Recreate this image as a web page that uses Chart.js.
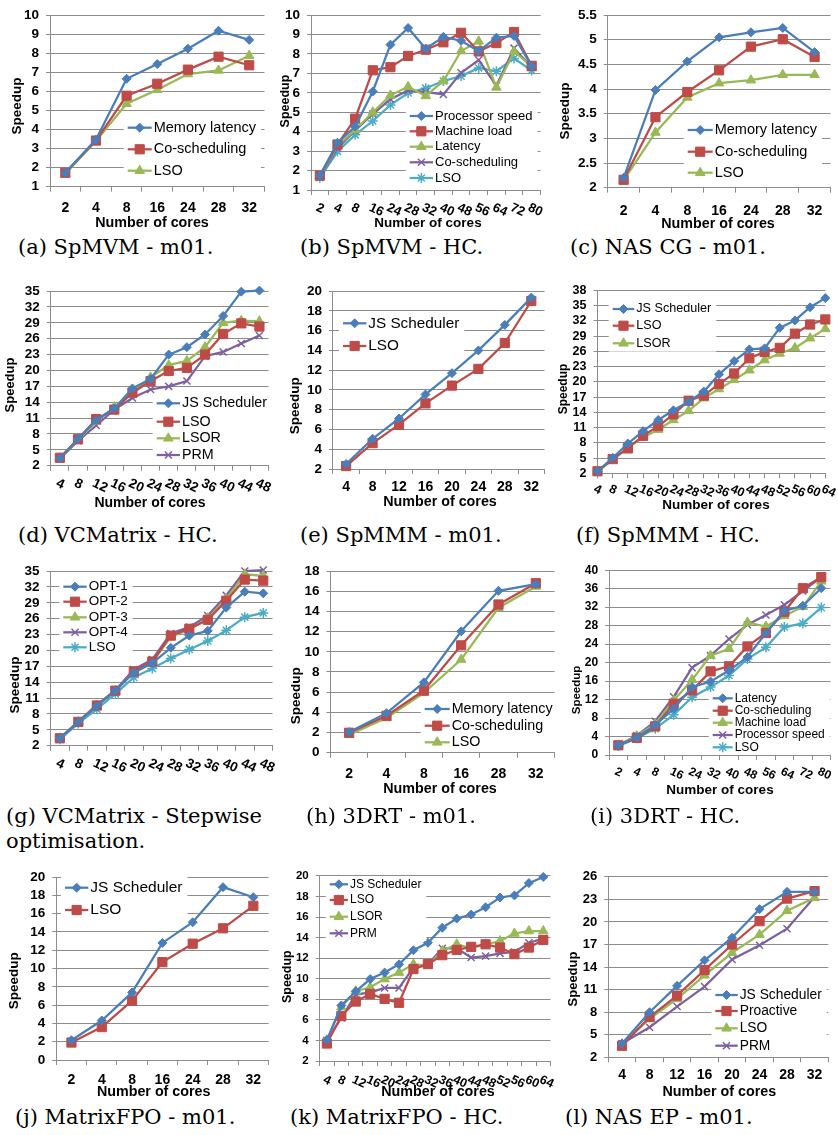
<!DOCTYPE html>
<html lang="en">
<head>
<meta charset="utf-8">
<title>Speedup results</title>
<script src="https://cdn.jsdelivr.net/npm/chart.js"></script>
<style>
  body { margin: 0; background: #fff; }
  #page { position: relative; width: 838px; height: 1135px; overflow: hidden; background: #fff; }
  #page canvas { position: absolute; }
  .cap { position: absolute; font-family: "DejaVu Serif", serif; font-size: 21px; line-height: 21px; color: #000; white-space: nowrap; }
</style>
</head>
<body>
<div id="page"></div>
<script>
// ---- data ----
// (a) SpMVM - m01
const coresA = ['2', '4', '8', '16', '24', '28', '32'];
const aMemLatency = [1.73, 3.47, 6.66, 7.43, 8.24, 9.18, 8.70];
const aCoSched = [1.73, 3.42, 5.77, 6.40, 7.14, 7.82, 7.37];
const aLSO = [1.68, 3.39, 5.35, 6.08, 6.91, 7.10, 7.87];

// (b) SpMVM - HC
const coresB = ['2', '4', '8', '16', '24', '28', '32', '40', '48', '56', '64', '72', '80'];
const bProcSpeed = [1.74, 3.43, 4.27, 6.07, 8.48, 9.34, 8.27, 8.88, 8.68, 8.15, 8.84, 8.93, 7.36];
const bMachLoad = [1.74, 3.34, 4.67, 7.16, 7.32, 7.90, 8.22, 8.60, 9.09, 8.13, 8.56, 9.13, 7.39];
const bLatency = [1.69, 3.28, 4.09, 5.00, 5.87, 6.31, 5.84, 6.61, 8.15, 8.65, 6.28, 8.13, 7.36];
const bCoSched = [1.69, 3.15, 4.06, 4.91, 5.67, 6.12, 6.04, 5.92, 7.03, 7.69, 6.37, 8.30, 7.31];
const bLSO = [1.63, 2.98, 3.84, 4.55, 5.38, 5.99, 6.24, 6.61, 6.86, 7.28, 7.11, 7.77, 7.15];

// (c) NAS CG - m01
const coresC = ['2', '4', '8', '16', '24', '28', '32'];
const cMemLatency = [2.20, 3.98, 4.56, 5.05, 5.15, 5.24, 4.75];
const cCoSched = [2.16, 3.43, 3.94, 4.38, 4.86, 5.01, 4.65];
const cLSO = [2.15, 3.12, 3.83, 4.12, 4.18, 4.29, 4.29];

// (d) VCMatrix - HC
const coresD = ['4', '8', '12', '16', '20', '24', '28', '32', '36', '40', '44', '48'];
const dJS = [3.4, 7.1, 10.6, 12.8, 16.6, 18.4, 23.0, 24.4, 26.8, 30.3, 34.9, 35.1];
const dLSO = [3.5, 7.0, 10.8, 12.6, 15.8, 18.0, 19.9, 20.5, 23.0, 26.9, 28.9, 28.3];
const dLSOR = [3.4, 6.9, 10.3, 13.1, 15.8, 18.7, 21.0, 21.8, 24.4, 29.0, 29.4, 29.3];
const dPRM = [3.3, 6.7, 9.6, 12.6, 14.8, 16.4, 17.0, 18.0, 22.7, 23.5, 25.1, 26.6];

// (e) SpMMM - m01
const coresE = ['4', '8', '12', '16', '20', '24', '28', '32'];
const eJS = [2.5, 5.06, 7.11, 9.54, 11.7, 14.0, 16.58, 19.34];
const eLSO = [2.3, 4.62, 6.48, 8.64, 10.44, 12.13, 14.75, 19.0];

// (f) SpMMM - HC
const coresF = ['4', '8', '12', '16', '20', '24', '28', '32', '36', '40', '44', '48', '52', '56', '60', '64'];
const fJS = [2.4, 5.06, 7.86, 10.3, 12.5, 14.4, 16.1, 18.1, 21.5, 24.1, 26.4, 26.6, 30.65, 32.1, 34.7, 36.5];
const fLSO = [2.4, 4.8, 6.9, 9.4, 11.3, 13.6, 16.3, 17.3, 19.6, 21.66, 24.65, 25.9, 26.7, 29.5, 31.3, 32.3];
const fLSOR = [2.4, 4.6, 7.1, 9.03, 10.6, 12.5, 14.3, 16.8, 18.6, 20.4, 22.3, 24.3, 25.6, 26.7, 28.6, 30.45];

// (g) VCMatrix - Stepwise optimisation
const coresG = ['4', '8', '12', '16', '20', '24', '28', '32', '36', '40', '44', '48'];
const gOpt1 = [3.4, 6.5, 9.5, 12.4, 15.8, 17.6, 20.5, 22.8, 23.7, 28.1, 31.1, 30.8];
const gOpt2 = [3.4, 6.5, 9.6, 12.4, 16.0, 17.9, 22.8, 24.1, 25.8, 29.4, 33.4, 33.2];
const gOpt3 = [3.4, 6.5, 9.6, 12.4, 16.0, 17.7, 22.6, 23.9, 26.1, 29.7, 34.4, 34.1];
const gOpt4 = [3.4, 6.6, 9.7, 12.5, 16.4, 18.3, 23.2, 24.4, 26.6, 30.4, 35.0, 35.2];
const gLSO = [3.2, 6.2, 8.9, 11.8, 14.9, 16.6, 18.5, 20.2, 21.8, 23.8, 26.3, 27.1];

// (h) 3DRT - m01
const coresH = ['2', '4', '8', '16', '28', '32'];
const hMemLatency = [2.04, 3.92, 6.97, 12.03, 16.05, 16.7];
const hCoSched = [1.98, 3.66, 6.16, 10.64, 14.69, 16.8];
const hLSO = [1.78, 3.44, 5.93, 9.24, 14.37, 16.48];

// (i) 3DRT - HC
const coresI = ['2', '4', '8', '16', '24', '32', '40', '48', '56', '64', '72', '80'];
const iLatency = [2.1, 3.8, 6.45, 10.0, 14.7, 15.9, 18.3, 21.2, 26.4, 31.2, 32.3, 36.1];
const iCoSched = [2.1, 3.7, 6.2, 11.1, 14.0, 18.1, 19.2, 23.5, 26.4, 31.0, 36.1, 38.5];
const iMachLoad = [2.1, 4.1, 6.7, 11.8, 16.3, 21.5, 23.0, 28.7, 27.8, 30.1, 32.1, 37.6];
const iProcSpeed = [2.1, 4.2, 7.3, 12.6, 18.9, 21.5, 25.1, 28.2, 30.3, 32.5, 35.5, 38.5];
const iLSO = [1.94, 3.6, 5.7, 8.7, 12.5, 14.7, 17.2, 20.8, 23.3, 27.7, 28.5, 31.9];

// (j) MatrixFPO - m01
const coresJ = ['2', '4', '8', '16', '24', '28', '32'];
const jJS = [2.16, 4.32, 7.39, 12.8, 15.06, 18.9, 17.8];
const jLSO = [1.91, 3.6, 6.49, 10.7, 12.72, 14.4, 16.86];

// (k) MatrixFPO - HC
const coresK = ['4', '8', '12', '16', '20', '24', '28', '32', '36', '40', '44', '48', '52', '56', '60', '64'];
const kJS = [4.03, 7.4, 8.78, 9.97, 10.6, 11.4, 12.77, 13.5, 14.96, 15.85, 16.24, 16.95, 17.9, 18.1, 19.3, 19.9];
const kLSO = [3.7, 6.37, 7.78, 8.52, 8.04, 7.66, 10.94, 11.42, 12.29, 12.8, 13.1, 13.35, 13.03, 12.39, 13.03, 13.77];
const kLSOR = [4.03, 7.24, 8.78, 9.17, 9.97, 10.6, 11.4, 11.3, 12.7, 13.35, 12.96, 13.35, 13.67, 14.4, 14.64, 14.64];
const kPRM = [4.0, 6.18, 8.46, 8.68, 9.1, 9.1, 11.1, 11.4, 12.96, 12.96, 12.06, 12.2, 12.47, 12.6, 13.5, 13.9];

// (l) NAS EP - m01
const coresL = ['4', '8', '12', '16', '20', '24', '28', '32'];
const lJS = [3.84, 8.0, 11.5, 14.9, 17.9, 21.7, 24.0, 24.0];
const lProactive = [3.53, 7.35, 10.2, 13.6, 17.0, 20.1, 23.1, 24.1];
const lLSO = [3.75, 7.13, 9.77, 12.9, 15.9, 18.3, 21.5, 23.2];
const lPRM = [3.84, 6.0, 8.75, 11.4, 15.0, 16.9, 19.1, 23.3];

// ---- look ----
const FONT = '"Liberation Sans", Arial, sans-serif';
const GRID = '#8c8c8c';
const STYLES = [
  { color: '#4A7EBB', point: 'rectRot', r: 4.5, bw: 1 },
  { color: '#BE4B48', point: 'rect', r: 6.5, bw: 1 },
  { color: '#98B954', point: 'triangle', r: 5.5, bw: 1 },
  { color: '#7D60A0', point: 'crossRot', r: 5, bw: 1.5 },
  { color: '#4BACC6', point: 'star', r: 5, bw: 1.5 }
];

const page = document.getElementById('page');

function caption(text, x, y) {
  const d = document.createElement('div');
  d.className = 'cap';
  d.textContent = text;
  d.style.left = x + 'px';
  d.style.top = (y - 10.5) + 'px';
  page.appendChild(d);
}

function panel(p) {
  const b = p.box;
  const cv = document.createElement('canvas');
  cv.width = b.w; cv.height = b.h;
  cv.style.left = b.x + 'px'; cv.style.top = b.y + 'px';
  cv.style.width = b.w + 'px'; cv.style.height = b.h + 'px';
  page.appendChild(cv);

  const datasets = p.series.map((s, i) => {
    const st = STYLES[i];
    return {
      label: s[0], data: s[1],
      borderColor: st.color, backgroundColor: st.color, borderWidth: 2.25,
      pointStyle: st.point, pointRadius: st.r, pointBorderWidth: st.bw,
      pointBackgroundColor: st.color, pointBorderColor: st.color,
      tension: 0, clip: false
    };
  });
  const off = p.offset !== false;

  // axis titles, slanted tick labels and the in-plot legend
  const overlay = {
    id: 'overlay',
    afterDatasetsDraw(chart) {
      const L = p.legend;
      const ctx = chart.ctx;
      ctx.save();
      ctx.font = L.size + 'px ' + FONT;
      let tw = 0;
      chart.data.datasets.forEach(d => { tw = Math.max(tw, ctx.measureText(d.label).width); });
      const gap = L.rows.length > 1 ? L.rows[1] - L.rows[0] : 18;
      ctx.fillStyle = '#fff';
      ctx.fillRect(L.x1 - 4 - b.x, L.rows[0] - gap / 2 - b.y,
        L.x2 + 2 + tw + 5 - (L.x1 - 4), L.rows[L.rows.length - 1] - L.rows[0] + gap);
      chart.data.datasets.forEach((d, i) => {
        const y = L.rows[i] - b.y;
        ctx.strokeStyle = d.borderColor; ctx.lineWidth = d.borderWidth;
        ctx.beginPath(); ctx.moveTo(L.x1 - b.x, y); ctx.lineTo(L.x2 - b.x, y); ctx.stroke();
        ctx.fillStyle = d.pointBackgroundColor; ctx.strokeStyle = d.pointBorderColor;
        ctx.lineWidth = d.pointBorderWidth;
        Chart.helpers.drawPoint(ctx, { pointStyle: d.pointStyle, radius: d.pointRadius, rotation: 0,
          borderWidth: d.pointBorderWidth }, (L.x1 + L.x2) / 2 - b.x, y);
        ctx.fillStyle = '#000'; ctx.textAlign = 'left'; ctx.textBaseline = 'middle';
        ctx.fillText(d.label, L.x2 + 2 - b.x, y);
      });
      ctx.restore();
    },
    afterDraw(chart) {
      const ctx = chart.ctx;
      ctx.save();
      ctx.fillStyle = '#000';
      ctx.textBaseline = 'middle';
      // y title
      ctx.save();
      ctx.font = 'bold ' + p.yt.size + 'px ' + FONT;
      ctx.textAlign = 'center';
      ctx.translate(p.yt.x - b.x, p.yt.y - b.y);
      ctx.rotate(-Math.PI / 2);
      ctx.fillText('Speedup', 0, 0);
      ctx.restore();
      // x title
      if (p.xt) {
        ctx.font = 'bold ' + p.xt.size + 'px ' + FONT;
        ctx.textAlign = 'center';
        ctx.fillText('Number of cores', p.xt.x - b.x, p.xt.y - b.y);
      }
      // slanted category labels
      if (p.rot) {
        const xs = chart.scales.x;
        ctx.font = 'bold ' + p.rot.size + 'px ' + FONT;
        ctx.textAlign = 'left';
        p.labels.forEach((lab, i) => {
          ctx.save();
          ctx.translate(xs.getPixelForTick(i) - 3, p.plot.B - b.y + p.rot.dy);
          ctx.rotate(p.rot.a * Math.PI / 180);
          ctx.fillText(lab, 0, 0);
          ctx.restore();
        });
      }
      ctx.restore();
    }
  };

  new Chart(cv, {
    type: 'line',
    data: { labels: p.labels, datasets },
    plugins: [overlay],
    options: {
      responsive: false,
      animation: false,
      events: [],
      layout: { padding: { left: 0, bottom: 0, top: p.plot.T - b.y, right: b.x + b.w - p.plot.R } },
      plugins: { legend: { display: false }, tooltip: { enabled: false } },
      scales: {
        x: {
          type: 'category',
          offset: off,
          grid: { display: true, drawOnChartArea: false, drawTicks: true, tickLength: 5, color: GRID, offset: off },
          border: { display: true, color: GRID, width: 1 },
          ticks: p.rot ? { display: false } : {
            autoSkip: false, maxRotation: 0, minRotation: 0, color: '#000', padding: p.xtick.pad,
            font: { family: FONT, size: p.xtick.size, weight: 'bold' }
          },
          title: { display: false },
          afterFit: s => { s.height = b.y + b.h - p.plot.B; }
        },
        y: {
          min: p.y[0], max: p.y[1],
          grid: { color: GRID, lineWidth: 1, drawTicks: true, tickLength: 4 },
          border: { display: true, color: GRID, width: 1 },
          ticks: {
            stepSize: p.y[2], autoSkip: false, color: '#000', padding: 7,
            font: { family: FONT, size: p.y[3], weight: 'bold' },
            callback: v => String(Math.round(v * 100) / 100)
          },
          title: { display: false },
          afterFit: s => { s.width = p.plot.L - b.x; }
        }
      }
    }
  });
}

// ---- panels ----
panel({ box: { x: 0, y: 0, w: 272, h: 234 }, plot: { L: 50, T: 10.7, R: 267, B: 186.7 },
  labels: coresA, series: [['Memory latency', aMemLatency], ['Co-scheduling', aCoSched], ['LSO', aLSO]],
  y: [1, 10, 1, 13.5], yt: { x: 17.5, y: 106, size: 13.5 }, xt: { x: 152, y: 223, size: 14.3 },
  xtick: { size: 14, pad: 8 }, legend: { x1: 127.7, x2: 151.7, rows: [127.7, 149.3, 170.7], size: 14.5 } });

panel({ box: { x: 278, y: 0, w: 270, h: 234 }, plot: { L: 311, T: 8.3, R: 544, B: 190 },
  labels: coresB, series: [['Processor speed', bProcSpeed], ['Machine load', bMachLoad], ['Latency', bLatency],
    ['Co-scheduling', bCoSched], ['LSO', bLSO]],
  y: [1, 10, 1, 13.5], yt: { x: 285.7, y: 101, size: 12.5 }, xt: { x: 428, y: 223, size: 13.5 },
  rot: { a: 25, size: 13, dy: 17 }, legend: { x1: 409.7, x2: 433, rows: [116, 131.3, 146.7, 162.3, 178], size: 13 } });

panel({ box: { x: 556, y: 0, w: 282, h: 234 }, plot: { L: 607.7, T: 10, R: 834, B: 187.7 },
  labels: coresC, series: [['Memory latency', cMemLatency], ['Co-scheduling', cCoSched], ['LSO', cLSO]],
  y: [2, 5.5, 0.5, 13.5], yt: { x: 565, y: 111, size: 13.5 }, xt: { x: 718, y: 224, size: 14.3 },
  xtick: { size: 14, pad: 9.6 }, legend: { x1: 687.7, x2: 712.7, rows: [130, 151.7, 172.7], size: 14.5 } });

panel({ box: { x: 0, y: 276, w: 276, h: 236 }, plot: { L: 50.8, T: 288.3, R: 272.8, B: 465.7 },
  labels: coresD, series: [['JS Scheduler', dJS], ['LSO', dLSO], ['LSOR', dLSOR], ['PRM', dPRM]],
  y: [2, 35, 3, 13.5], yt: { x: 10, y: 385, size: 13 }, xt: { x: 150, y: 503, size: 14 },
  rot: { a: 25, size: 13.5, dy: 17 }, legend: { x1: 156.7, x2: 180, rows: [403.3, 421.7, 438.3, 455], size: 14.3 } });

panel({ box: { x: 278, y: 276, w: 274, h: 236 }, plot: { L: 332.9, T: 288.3, R: 548, B: 469 },
  labels: coresE, series: [['JS Scheduler', eJS], ['LSO', eLSO]],
  y: [2, 20, 2, 13.5], yt: { x: 295.3, y: 405.8, size: 13.5 }, xt: { x: 440, y: 502, size: 14.3 },
  xtick: { size: 14, pad: 4.3 }, legend: { x1: 343, x2: 366.3, rows: [323.3, 346], size: 15.3 } });

panel({ box: { x: 556, y: 276, w: 282, h: 236 }, plot: { L: 597.5, T: 289, R: 825.3, B: 473.3 }, offset: false,
  labels: coresF, series: [['JS Scheduler', fJS], ['LSO', fLSO], ['LSOR', fLSOR]],
  y: [2, 38, 3, 12.5], yt: { x: 563.3, y: 389, size: 12 }, xt: { x: 716, y: 505, size: 13.5 },
  rot: { a: 25, size: 12.5, dy: 15 }, legend: { x1: 612.7, x2: 634.3, rows: [309, 325.7, 343.3], size: 12.6 } });

panel({ box: { x: 0, y: 556, w: 280, h: 232 }, plot: { L: 50.6, T: 569.3, R: 277.1, B: 745.7 },
  labels: coresG, series: [['OPT-1', gOpt1], ['OPT-2', gOpt2], ['OPT-3', gOpt3], ['OPT-4', gOpt4], ['LSO', gLSO]],
  y: [2, 35, 3, 13.5], yt: { x: 15.3, y: 685, size: 13.5 },
  rot: { a: 25, size: 13.5, dy: 17 }, legend: { x1: 63.3, x2: 86.7, rows: [586.7, 601.7, 617.3, 632.3, 647.3], size: 13.5 } });

panel({ box: { x: 278, y: 556, w: 284, h: 244 }, plot: { L: 330.5, T: 567.7, R: 560.5, B: 752.7 },
  labels: coresH, series: [['Memory latency', hMemLatency], ['Co-scheduling', hCoSched], ['LSO', hLSO]],
  y: [0, 18, 2, 13.5], yt: { x: 296.7, y: 695.8, size: 13.5 }, xt: { x: 440, y: 789, size: 14.3 },
  xtick: { size: 14, pad: 8.2 }, legend: { x1: 424.7, x2: 449.7, rows: [709, 725.7, 742.3], size: 14.3 } });

panel({ box: { x: 556, y: 556, w: 282, h: 244 }, plot: { L: 609.1, T: 569, R: 831, B: 755 },
  labels: coresI, series: [['Latency', iLatency], ['Co-scheduling', iCoSched], ['Machine load', iMachLoad],
    ['Processor speed', iProcSpeed], ['LSO', iLSO]],
  y: [0, 40, 4, 12], yt: { x: 577.3, y: 690, size: 11.5 }, xt: { x: 720, y: 790, size: 13.5 },
  rot: { a: 25, size: 12, dy: 16 }, legend: { x1: 712.7, x2: 732.7, rows: [698.3, 710.7, 722.7, 735, 747.3], size: 12 } });

panel({ box: { x: 0, y: 862, w: 276, h: 240 }, plot: { L: 56.3, T: 875, R: 271, B: 1060 },
  labels: coresJ, series: [['JS Scheduler', jJS], ['LSO', jLSO]],
  y: [0, 20, 2, 13.5], yt: { x: 13.8, y: 980.8, size: 13.5 }, xt: { x: 153.7, y: 1092.3, size: 14.3 },
  xtick: { size: 14, pad: 6.6 }, legend: { x1: 65, x2: 88.3, rows: [887.7, 910], size: 15.5 } });

panel({ box: { x: 278, y: 862, w: 280, h: 240 }, plot: { L: 319.7, T: 874.3, R: 554.4, B: 1061 },
  labels: coresK, series: [['JS Scheduler', kJS], ['LSO', kLSO], ['LSOR', kLSOR], ['PRM', kPRM]],
  y: [2, 20, 2, 11.5], yt: { x: 288, y: 976.7, size: 12.5 }, xt: { x: 438, y: 1091.7, size: 14.3 },
  rot: { a: 25, size: 12.5, dy: 18 }, legend: { x1: 329.7, x2: 348, rows: [884.3, 900, 916.7, 933.3], size: 12 } });

panel({ box: { x: 556, y: 862, w: 282, h: 240 }, plot: { L: 608.3, T: 875, R: 828.3, B: 1057.3 },
  labels: coresL, series: [['JS Scheduler', lJS], ['Proactive', lProactive], ['LSO', lLSO], ['PRM', lPRM]],
  y: [2, 26, 3, 13], yt: { x: 573, y: 979, size: 13 }, xt: { x: 719.3, y: 1092, size: 14.3 },
  xtick: { size: 14, pad: 4.3 }, legend: { x1: 715.3, x2: 737.7, rows: [995, 1011, 1028.3, 1045.7], size: 13.8 } });

// ---- captions ----
caption('(a) SpMVM - m01.', 18, 247);
caption('(b) SpMVM - HC.', 300, 247);
caption('(c) NAS CG - m01.', 570, 247);
caption('(d) VCMatrix - HC.', 18, 535);
caption('(e) SpMMM - m01.', 300, 535);
caption('(f) SpMMM - HC.', 576, 535);
caption('(g) VCMatrix - Stepwise', 6, 816);
caption('optimisation.', 6, 841);
caption('(h) 3DRT - m01.', 306, 816);
caption('(i) 3DRT - HC.', 590, 816);
caption('(j) MatrixFPO - m01.', 15, 1117);
caption('(k) MatrixFPO - HC.', 290, 1117);
caption('(l) NAS EP - m01.', 565, 1117);
</script>
</body>
</html>
